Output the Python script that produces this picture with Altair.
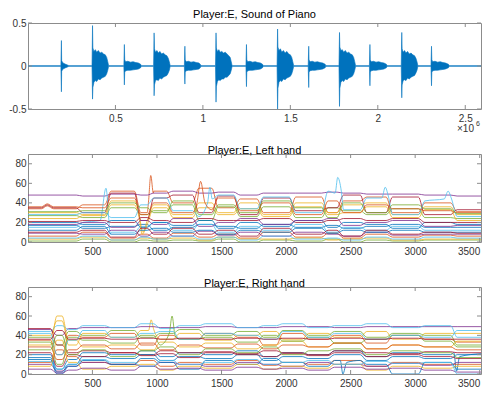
import altair as alt
import pandas as pd

COLORS = ["#0072BD", "#D95319", "#EDB120", "#7E2F8E", "#77AC30", "#4DBEEE", "#A2142F"]
GRAY = "#8c8c8c"
LABEL_GRAY = "#333333"
FONT = "Liberation Sans"
W = 453
H1 = 86
H2 = 88
H3 = 87

# ---------------- Panel 1: piano waveform envelopes (x in units of 1e6 samples)
NOTE_X = [
    [0.188, 0.191, 0.1925, 0.200, 0.215, 0.228, 0.234],
    [0.366, 0.369, 0.371, 0.377, 0.385, 0.393, 0.402, 0.412, 0.422, 0.432, 0.442, 0.450, 0.456, 0.461],
    [0.548, 0.551, 0.553, 0.559, 0.571, 0.586, 0.601, 0.616, 0.631, 0.644, 0.648],
    [0.718, 0.721, 0.723, 0.729, 0.737, 0.745, 0.754, 0.764, 0.774, 0.784, 0.794, 0.802, 0.808, 0.813],
    [0.894, 0.897, 0.899, 0.905, 0.917, 0.932, 0.947, 0.962, 0.977, 0.985, 0.989],
    [1.072, 1.075, 1.077, 1.083, 1.091, 1.099, 1.108, 1.118, 1.128, 1.138, 1.148, 1.156, 1.162, 1.167],
    [1.246, 1.249, 1.251, 1.257, 1.269, 1.284, 1.299, 1.314, 1.329, 1.341, 1.345],
    [1.424, 1.427, 1.429, 1.435, 1.443, 1.451, 1.460, 1.470, 1.480, 1.490, 1.500, 1.508, 1.514, 1.519],
    [1.602, 1.605, 1.607, 1.613, 1.625, 1.640, 1.655, 1.670, 1.685, 1.699, 1.703],
    [1.778, 1.781, 1.783, 1.789, 1.797, 1.805, 1.814, 1.824, 1.834, 1.844, 1.854, 1.862, 1.868, 1.873],
    [1.952, 1.955, 1.957, 1.963, 1.975, 1.990, 2.005, 2.020, 2.035, 2.049, 2.053],
    [2.134, 2.137, 2.139, 2.145, 2.153, 2.161, 2.170, 2.180, 2.190, 2.200, 2.210, 2.218, 2.224, 2.229],
    [2.304, 2.307, 2.309, 2.315, 2.327, 2.342, 2.357, 2.372, 2.387, 2.404, 2.408],
]
NOTE_TOP = [
    [0.004, 0.296, 0.06, 0.035, 0.02, 0.01, 0.004],
    [0.004, 0.47, 0.21, 0.17, 0.19, 0.16, 0.18, 0.15, 0.16, 0.14, 0.13, 0.10, 0.05, 0.004],
    [0.004, 0.25, 0.07, 0.05, 0.055, 0.045, 0.05, 0.04, 0.035, 0.02, 0.004],
    [0.004, 0.385, 0.20, 0.16, 0.18, 0.15, 0.17, 0.14, 0.15, 0.13, 0.12, 0.09, 0.05, 0.004],
    [0.004, 0.23, 0.07, 0.05, 0.055, 0.045, 0.05, 0.04, 0.035, 0.02, 0.004],
    [0.004, 0.385, 0.21, 0.17, 0.19, 0.16, 0.17, 0.15, 0.16, 0.14, 0.12, 0.10, 0.05, 0.004],
    [0.004, 0.25, 0.07, 0.05, 0.055, 0.045, 0.05, 0.04, 0.035, 0.02, 0.004],
    [0.004, 0.43, 0.22, 0.18, 0.20, 0.16, 0.18, 0.15, 0.17, 0.14, 0.13, 0.10, 0.05, 0.004],
    [0.004, 0.23, 0.07, 0.05, 0.055, 0.045, 0.05, 0.04, 0.035, 0.02, 0.004],
    [0.004, 0.39, 0.22, 0.18, 0.19, 0.16, 0.18, 0.15, 0.16, 0.14, 0.13, 0.10, 0.05, 0.004],
    [0.004, 0.25, 0.07, 0.05, 0.055, 0.045, 0.05, 0.04, 0.035, 0.02, 0.004],
    [0.004, 0.39, 0.20, 0.16, 0.18, 0.15, 0.17, 0.14, 0.15, 0.13, 0.12, 0.09, 0.05, 0.004],
    [0.004, 0.23, 0.07, 0.05, 0.055, 0.045, 0.05, 0.04, 0.035, 0.02, 0.004],
]
NOTE_BOT = [
    [-0.004, -0.30, -0.06, -0.035, -0.02, -0.01, -0.004],
    [-0.004, -0.385, -0.25, -0.19, -0.17, -0.18, -0.15, -0.16, -0.14, -0.13, -0.12, -0.09, -0.05, -0.004],
    [-0.004, -0.22, -0.07, -0.055, -0.05, -0.05, -0.045, -0.04, -0.035, -0.02, -0.004],
    [-0.004, -0.346, -0.22, -0.17, -0.16, -0.17, -0.14, -0.15, -0.13, -0.12, -0.11, -0.08, -0.05, -0.004],
    [-0.004, -0.21, -0.07, -0.055, -0.05, -0.05, -0.045, -0.04, -0.035, -0.02, -0.004],
    [-0.004, -0.42, -0.24, -0.18, -0.16, -0.17, -0.15, -0.15, -0.13, -0.13, -0.11, -0.09, -0.05, -0.004],
    [-0.004, -0.24, -0.07, -0.055, -0.05, -0.05, -0.045, -0.04, -0.035, -0.02, -0.004],
    [-0.004, -0.50, -0.26, -0.19, -0.17, -0.18, -0.15, -0.16, -0.14, -0.13, -0.12, -0.09, -0.05, -0.004],
    [-0.004, -0.25, -0.07, -0.055, -0.05, -0.05, -0.045, -0.04, -0.035, -0.02, -0.004],
    [-0.004, -0.47, -0.26, -0.19, -0.17, -0.18, -0.15, -0.16, -0.14, -0.13, -0.12, -0.09, -0.05, -0.004],
    [-0.004, -0.23, -0.07, -0.055, -0.05, -0.05, -0.045, -0.04, -0.035, -0.02, -0.004],
    [-0.004, -0.37, -0.22, -0.17, -0.16, -0.17, -0.14, -0.15, -0.13, -0.12, -0.11, -0.08, -0.05, -0.004],
    [-0.004, -0.23, -0.07, -0.055, -0.05, -0.05, -0.045, -0.04, -0.035, -0.02, -0.004],
]
WAVE_START = 0.0
WAVE_END = 2.59
WAVE_XTICKS = [0.5, 1, 1.5, 2, 2.5]
WAVE_YTICKS = [-0.5, 0, 0.5]

# ---------------- Panels 2/3: joint trajectories (plateau value per segment)
FRAME_TICKS = [500, 1000, 1500, 2000, 2500, 3000, 3500]
VAL_TICKS = [0, 20, 40, 60, 80]

LH_EDGES = [1, 400, 620, 850, 950, 1100, 1300, 1450, 1620, 1800, 2050, 2300, 2420, 2600, 2800, 3050, 3300, 3510]
LH = [
    [17, 14, 16, 18, 12, 15, 18, 16, 14, 18, 15, 17, 14, 16, 18, 15, 15],
    [34, 38, 52, 30, 52, 40, 55, 35, 44, 30, 46, 30, 42, 46, 30, 40, 31],
    [30, 28, 42, 25, 38, 28, 40, 30, 40, 28, 40, 30, 38, 40, 28, 36, 28],
    [48, 47, 49, 48, 50, 52, 50, 51, 48, 50, 50, 51, 50, 49, 49, 48, 47],
    [27, 25, 35, 28, 32, 38, 22, 36, 26, 36, 25, 35, 32, 28, 34, 25, 24],
    [15, 20, 10, 16, 20, 12, 18, 10, 16, 12, 18, 10, 15, 12, 16, 12, 12],
    [35, 30, 50, 22, 45, 48, 30, 47, 28, 45, 32, 35, 48, 30, 46, 28, 33],
    [20, 18, 22, 15, 20, 17, 22, 14, 20, 16, 22, 15, 20, 18, 14, 20, 18],
    [6, 10, 4, 8, 4, 9, 5, 8, 4, 10, 5, 9, 4, 8, 5, 7, 6],
    [24, 27, 38, 20, 35, 25, 35, 28, 34, 26, 36, 28, 30, 36, 25, 33, 22],
    [9, 8, 12, 6, 10, 6, 11, 7, 10, 6, 10, 8, 6, 10, 7, 8, 8],
    [1, 3, 0, 2, 1, 2, 1, 3, 0, 2, 1, 3, 0, 2, 1, 2, 2],
    [28, 30, 25, 38, 45, 32, 26, 48, 34, 46, 30, 52, 33, 45, 28, 42, 26],
    [21, 22, 20, 25, 22, 20, 24, 22, 22, 24, 20, 22, 24, 22, 24, 20, 20],
    [12, 16, 8, 12, 14, 10, 12, 8, 12, 10, 14, 9, 12, 10, 12, 10, 10],
    [36, 35, 45, 28, 40, 30, 33, 45, 32, 40, 28, 42, 30, 38, 34, 32, 30],
    [3, 5, 2, 4, 3, 4, 2, 5, 3, 3, 4, 2, 3, 4, 2, 3, 3],
    [18, 20, 15, 22, 18, 24, 16, 20, 24, 18, 22, 24, 17, 20, 22, 16, 17],
    [31, 32, 40, 35, 30, 42, 28, 38, 30, 42, 35, 25, 40, 30, 38, 34, 29],
    [4, 6, 2, 5, 3, 6, 3, 5, 2, 6, 3, 4, 2, 5, 3, 5, 4],
    [10, 12, 5, 14, 8, 14, 8, 12, 6, 14, 8, 12, 6, 12, 8, 10, 9],
]
LH_SPIKES = [
    (1, [935, 952, 972], [42, 68, 50]),
    (15, [1310, 1338, 1372], [40, 62, 40]),
    (12, [1392, 1410, 1428], [40, 56, 44]),
    (12, [2380, 2400, 2428], [50, 66, 52]),
    (12, [2742, 2768, 2792], [45, 56, 47]),
    (12, [3225, 3255, 3282], [44, 52, 44]),
    (6, [105, 150, 200], [35, 38, 35]),
    (1, [105, 150, 200], [34, 37, 34]),
    (15, [105, 150, 200], [36, 39, 36]),
    (5, [560, 605, 640], [22, 55, 8]),
    (2, [860, 890, 925], [30, 10, 22]),
    (9, [860, 885, 925], [26, 8, 18]),
]

RH_EDGES = [1, 200, 290, 400, 620, 850, 1000, 1150, 1350, 1600, 1800, 1950, 2150, 2350, 2600, 2800, 3050, 3300, 3510]
RH = [
    [20, 5, 15, 22, 20, 24, 18, 22, 20, 24, 18, 22, 20, 24, 18, 22, 20, 21],
    [35, 20, 40, 38, 42, 30, 40, 36, 42, 38, 30, 42, 36, 40, 32, 40, 36, 33],
    [40, 55, 30, 42, 38, 45, 36, 42, 35, 40, 44, 36, 42, 38, 44, 36, 42, 42],
    [46, 40, 47, 48, 48, 49, 48, 48, 49, 48, 48, 49, 49, 48, 49, 49, 49, 49],
    [38, 30, 44, 40, 45, 38, 42, 46, 40, 44, 38, 45, 40, 44, 38, 42, 40, 30],
    [44, 50, 46, 50, 48, 52, 47, 50, 52, 48, 50, 52, 48, 50, 52, 48, 50, 38],
    [47, 30, 22, 24, 22, 20, 24, 22, 23, 21, 24, 22, 20, 24, 22, 21, 23, 22],
    [17, 2, 10, 18, 16, 20, 14, 18, 16, 20, 14, 18, 16, 20, 14, 18, 16, 20],
    [12, 25, 18, 12, 10, 14, 8, 12, 10, 14, 9, 12, 10, 14, 8, 12, 10, 10],
    [30, 60, 35, 28, 30, 25, 33, 28, 32, 26, 30, 34, 28, 32, 26, 30, 28, 34],
    [10, 3, 8, 12, 10, 8, 12, 10, 8, 12, 10, 8, 12, 10, 8, 11, 9, 12],
    [33, 10, 38, 35, 32, 40, 30, 36, 38, 33, 40, 34, 38, 32, 36, 40, 34, 28],
    [42, 20, 35, 45, 38, 42, 44, 36, 42, 40, 36, 44, 38, 42, 36, 40, 38, 45],
    [22, 8, 20, 18, 22, 19, 21, 17, 22, 20, 18, 21, 19, 22, 18, 20, 18, 16],
    [15, 0, 8, 14, 10, 16, 12, 5, 14, 10, 16, 12, 8, 14, 10, 0, 12, 5],
    [28, 15, 25, 30, 26, 32, 25, 30, 27, 31, 26, 30, 28, 32, 26, 30, 28, 25],
    [8, 35, 12, 5, 8, 10, 4, 8, 6, 10, 5, 8, 6, 10, 4, 8, 6, 8],
    [5, 1, 4, 6, 4, 8, 5, 6, 4, 7, 5, 6, 4, 7, 5, 6, 4, 2],
    [25, 40, 20, 25, 18, 24, 28, 20, 26, 22, 28, 20, 24, 26, 20, 24, 22, 17],
    [13, 5, 10, 15, 12, 8, 14, 10, 12, 15, 10, 12, 14, 10, 13, 11, 12, 0],
    [36, 45, 36, 37, 36, 37, 36, 37, 36, 37, 36, 37, 36, 37, 36, 37, 36, 36],
]
RH_SPIKES = [
    (11, [1095, 1117, 1140], [42, 60, 40]),
    (2, [935, 955, 975], [45, 56, 46]),
    (14, [2420, 2440, 2470], [14, 0, 12]),
    (0, [3300, 3320, 3345], [22, 3, 18]),
]


def wave_table():
    rows = [{"x": WAVE_START, "top": 0.004, "bot": -0.004}]
    for xs, ts, bs in zip(NOTE_X, NOTE_TOP, NOTE_BOT):
        for x, t, b in zip(xs, ts, bs):
            rows.append({"x": x, "top": t, "bot": b})
    rows.append({"x": WAVE_END, "top": 0.004, "bot": -0.004})
    return pd.DataFrame(rows).sort_values("x")


def line_table(edges, values, spikes, ramp=25):
    rows = []
    n = len(values[0])
    for j, vals in enumerate(values):
        pts = []
        for k, v in enumerate(vals):
            a = edges[k] + (0 if k == 0 else ramp)
            b = edges[k + 1] - (0 if k == n - 1 else ramp)
            pts.append((a, v))
            pts.append((b, v))
        for lj, fx, fy in spikes:
            if lj == j:
                lo, hi = min(fx), max(fx)
                pts = [p for p in pts if not (lo <= p[0] <= hi)]
                pts += list(zip(fx, fy))
        pts.sort()
        for x, y in pts:
            rows.append({"line": f"L{j:02d}", "x": x, "y": y})
    return pd.DataFrame(rows)


def x_axis(ticks):
    return alt.Axis(values=ticks, title=None, grid=False, domain=False, ticks=False,
                    tickSize=0, labelPadding=4, format="~r", labelFlush=6,
                    labelFont=FONT, labelFontSize=10, labelColor=LABEL_GRAY)


def y_axis(ticks):
    return alt.Axis(values=ticks, title=None, grid=False, domain=False, ticks=False,
                    tickSize=0, labelPadding=2, format="~r",
                    labelFont=FONT, labelFontSize=10, labelColor=LABEL_GRAY,
                    labelExpr="replace(datum.label, '\u2212', '-')")


def frame_layers(xs, ys, xticks, yticks, h):
    dx = pd.DataFrame({"x": xticks})
    dy = pd.DataFrame({"y": yticks})
    xa = x_axis(xticks)
    ya = y_axis(yticks)
    tb = alt.Chart(dx).mark_rule(color=GRAY, strokeWidth=1).encode(
        x=alt.X("x:Q", scale=xs, axis=xa), y=alt.value(h), y2=alt.value(h - 4))
    tt = alt.Chart(dx).mark_rule(color=GRAY, strokeWidth=1).encode(
        x=alt.X("x:Q", scale=xs, axis=xa), y=alt.value(0), y2=alt.value(4))
    tl = alt.Chart(dy).mark_rule(color=GRAY, strokeWidth=1).encode(
        y=alt.Y("y:Q", scale=ys, axis=ya), x=alt.value(0), x2=alt.value(4))
    tr = alt.Chart(dy).mark_rule(color=GRAY, strokeWidth=1).encode(
        y=alt.Y("y:Q", scale=ys, axis=ya), x=alt.value(W - 4), x2=alt.value(W))
    return [tb, tt, tl, tr]


def exponent_layers(h, visible):
    op = 1 if visible else 0
    d = pd.DataFrame({"a": [1]})
    t1 = alt.Chart(d).mark_text(align="right", baseline="top", fontSize=10, font=FONT,
                                color=LABEL_GRAY, opacity=op).encode(
        x=alt.value(W - 7), y=alt.value(h + 15), text=alt.value("\u00d710"))
    t2 = alt.Chart(d).mark_text(align="right", baseline="top", fontSize=7, font=FONT,
                                color=LABEL_GRAY, opacity=op).encode(
        x=alt.value(W - 1), y=alt.value(h + 11), text=alt.value("6"))
    return [t1, t2]


def title(text):
    return alt.TitleParams(text, fontSize=11, font=FONT, fontWeight="normal",
                           color="black", offset=-2, anchor="middle", frame="group")


# Panel 1
xs1 = alt.Scale(domain=[0, WAVE_END], nice=False, zero=False)
ys1 = alt.Scale(domain=[-0.5, 0.5], nice=False)
wave = alt.Chart(wave_table()).mark_area(
    color=COLORS[0], stroke=COLORS[0], strokeWidth=0.6, clip=True).encode(
    x=alt.X("x:Q", scale=xs1, axis=x_axis(WAVE_XTICKS)),
    y=alt.Y("top:Q", scale=ys1, axis=y_axis(WAVE_YTICKS)),
    y2="bot:Q",
)
p1 = alt.layer(wave, *frame_layers(xs1, ys1, WAVE_XTICKS, WAVE_YTICKS, H1),
               *exponent_layers(H1, True)).properties(
    width=W, height=H1, title=title("Player:E, Sound of Piano"))

ids = [f"L{j:02d}" for j in range(len(LH))]
cols = [COLORS[j % 7] for j in range(len(LH))]


def hand_panel(edges, values, spikes, name, h, with_exp):
    xs = alt.Scale(domain=[1, 3510], nice=False, zero=False)
    ys = alt.Scale(domain=[0, 90], nice=False)
    lines = alt.Chart(line_table(edges, values, spikes)).mark_line(
        strokeWidth=0.8, interpolate="monotone", clip=True).encode(
        x=alt.X("x:Q", scale=xs, axis=x_axis(FRAME_TICKS)),
        y=alt.Y("y:Q", scale=ys, axis=y_axis(VAL_TICKS)),
        color=alt.Color("line:N", scale=alt.Scale(domain=ids, range=cols), legend=None),
    )
    layers = [lines, *frame_layers(xs, ys, FRAME_TICKS, VAL_TICKS, h)]
    if with_exp:
        layers += exponent_layers(h, False)
    return alt.layer(*layers).properties(width=W, height=h, title=title(name))


p2 = hand_panel(LH_EDGES, LH, LH_SPIKES, "Player:E, Left hand", H2, True)
p3 = hand_panel(RH_EDGES, RH, RH_SPIKES, "Player:E, Right hand", H3, False)

chart = alt.vconcat(p1, p2, p3, spacing=9).properties(
    padding={"left": 0, "top": 0, "right": 0, "bottom": 0}, background="white"
).configure_view(stroke=GRAY, strokeWidth=1)

chart.save("out.html", embed_options={"renderer": "svg", "actions": False})
